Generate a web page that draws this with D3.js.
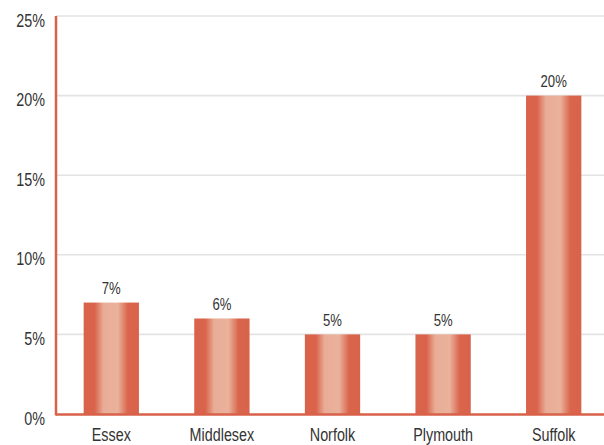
<!DOCTYPE html>
<html><head><meta charset="utf-8">
<script src="https://cdn.jsdelivr.net/npm/d3@7"></script>
<style>
html,body{margin:0;padding:0;background:#fff;overflow:hidden;}
svg text{font-family:"Liberation Sans",Arial,sans-serif;fill:#333;}
</style></head>
<body><svg id="chart" width="604" height="445"></svg>
<script>
const categories = ["Essex","Middlesex","Norfolk","Plymouth","Suffolk"];
const values = [7, 6, 5, 5, 20];
const yTicks = [0, 5, 10, 15, 20, 25];

const svg = d3.select("#chart");
const mLeft = 56, mRight = 609, mTop = 16, mBottom = 414;
const narrow = 0.82;

const x = d3.scaleBand().domain(categories).range([mLeft, mRight]).paddingInner(0.5).paddingOuter(0.25);
const y = d3.scaleLinear().domain([0, 25]).range([mBottom, mTop]);

const defs = svg.append("defs");
const grad = defs.append("linearGradient").attr("id","barGrad").attr("x1","0%").attr("x2","100%").attr("y1","0%").attr("y2","0%");
[[0,"#d9634a"],[0.2,"#d9644b"],[0.36,"#e9ad97"],[0.62,"#eab19b"],[0.8,"#d9654c"],[1,"#d9634a"]].forEach(([o,c])=>{
  grad.append("stop").attr("offset",o).attr("stop-color",c);
});

// gridlines
svg.append("g").selectAll("line").data(yTicks.filter(d=>d>0)).join("line")
  .attr("x1", mLeft).attr("x2", 604)
  .attr("y1", d=>y(d)).attr("y2", d=>y(d))
  .attr("stroke","#e3e3e3").attr("stroke-width",1.6);

// y tick labels
svg.append("g").selectAll("text").data(yTicks).join("text")
  .attr("transform", d=>`translate(45,${y(d)+10.5}) scale(${narrow},1)`)
  .attr("text-anchor","end")
  .style("font-size","17.5px")
  .text(d=>d+"%");

// bars
svg.append("g").selectAll("rect").data(values).join("rect")
  .attr("x",(d,i)=>x(categories[i]))
  .attr("width",x.bandwidth())
  .attr("y",d=>y(d))
  .attr("height",d=>mBottom-y(d))
  .attr("fill","url(#barGrad)");

// value labels
svg.append("g").selectAll("text").data(values).join("text")
  .attr("transform",(d,i)=>`translate(${x(categories[i])+x.bandwidth()/2},${y(d)-8.5}) scale(${narrow},1)`)
  .attr("text-anchor","middle")
  .style("font-size","16px")
  .text(d=>d+"%");

// axes lines
svg.append("line").attr("x1",mLeft).attr("x2",604).attr("y1",mBottom+0.5).attr("y2",mBottom+0.5)
  .attr("stroke","#d9604a").attr("stroke-width",2.5);
svg.append("line").attr("x1",mLeft).attr("x2",mLeft).attr("y1",mTop).attr("y2",mBottom+1.5)
  .attr("stroke","#d9604a").attr("stroke-width",2.5);

// x labels
svg.append("g").selectAll("text").data(categories).join("text")
  .attr("transform",d=>`translate(${x(d)+x.bandwidth()/2},441) scale(${narrow},1)`)
  .attr("text-anchor","middle")
  .style("font-size","17.5px")
  .text(d=>d);
</script></body></html>
